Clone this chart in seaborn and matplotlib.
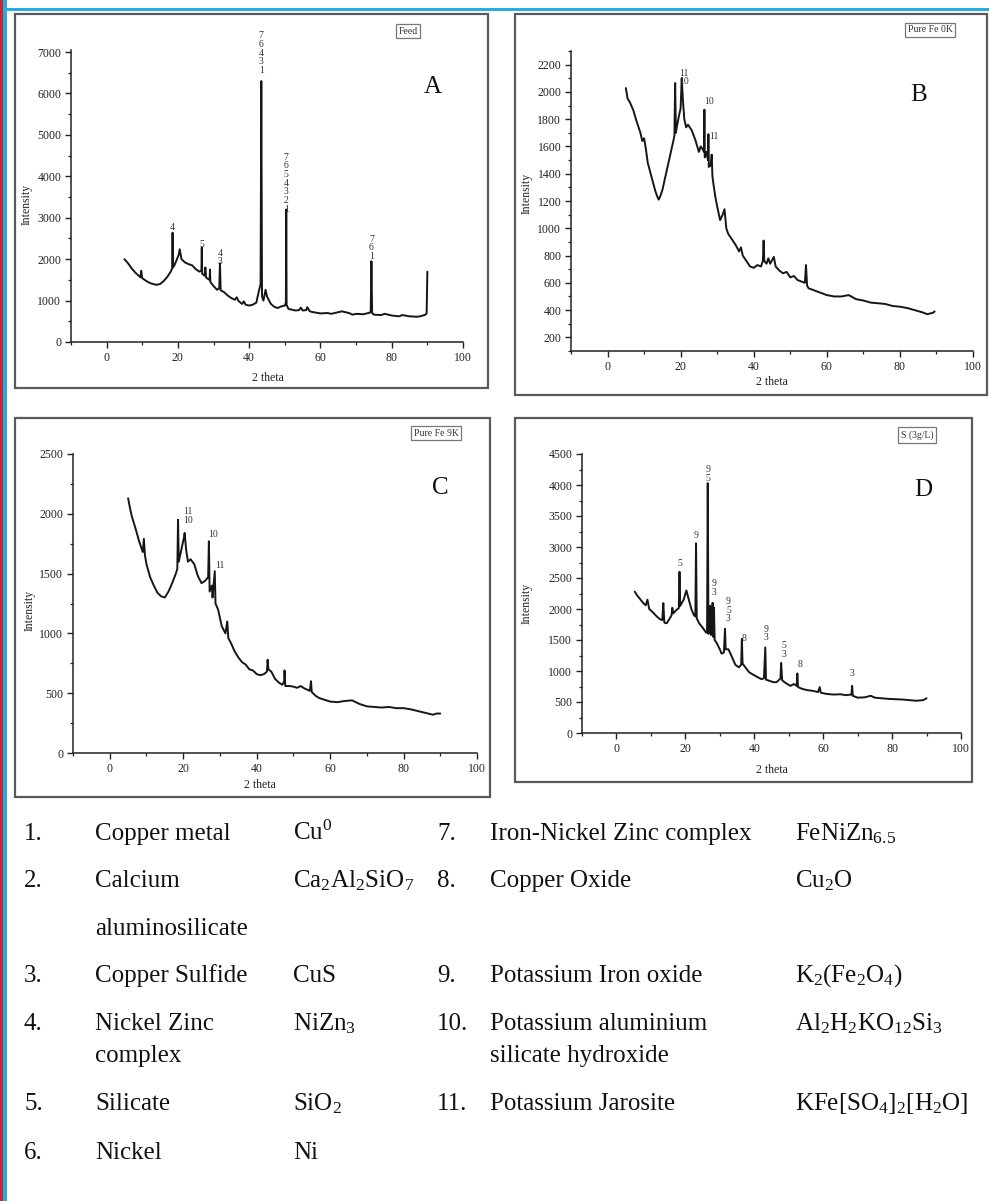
import matplotlib
matplotlib.use("Agg")
import matplotlib.pyplot as plt
import seaborn as sns
from matplotlib.patches import Rectangle
from matplotlib.ticker import MultipleLocator

# ---- data ----
feed_theta = [5.0, 6.0, 7.0, 8.0, 9.0, 9.5, 9.7, 10.0, 11.0, 12.0,
              13.0, 14.0, 15.0, 16.0, 17.0, 18.0, 18.4, 18.5, 18.6, 19.0,
              19.5, 20.2, 20.5, 21.0, 22.0, 23.0, 24.0, 25.0, 26.0, 26.6,
              26.7, 26.8, 27.5, 27.7, 27.9, 28.5, 28.9, 29.0, 29.1, 30.0,
              31.0, 31.6, 31.8, 32.0, 33.0, 34.0, 35.0, 36.0, 36.5, 37.0,
              38.0, 38.5, 39.0, 40.0, 41.0, 42.0, 42.8, 43.2, 43.4, 43.6,
              44.0, 44.6, 45.0, 46.0, 47.0, 48.0, 49.0, 50.0, 50.3, 50.4,
              50.5, 51.0, 52.0, 53.0, 54.0, 54.5, 55.0, 56.0, 56.3, 57.0,
              58.0, 60.0, 62.0, 63.0, 65.0, 66.0, 68.0, 69.0, 70.0, 72.0,
              73.5, 74.1, 74.3, 74.5, 75.0, 77.0, 78.0, 80.0, 82.0, 83.0,
              85.0, 87.0, 88.0, 89.5, 89.8, 90.0]
feed_counts = [2000, 1900, 1780, 1680, 1600, 1560, 1720, 1540, 1480, 1430,
               1400, 1380, 1400, 1470, 1570, 1700, 1780, 2640, 1800, 1850,
               1950, 2100, 2240, 2000, 1920, 1880, 1850, 1760, 1700, 1720,
               2280, 1650, 1600, 1800, 1560, 1520, 1500, 1750, 1450, 1350,
               1260, 1300, 1900, 1250, 1200, 1120, 1060, 1020, 1080, 990,
               920, 980, 900, 880, 900, 950, 1260, 1400, 6300, 1100,
               1000, 1260, 1100, 930, 850, 820, 860, 880, 950, 3200,
               900, 800, 780, 760, 770, 830, 760, 770, 840, 740,
               720, 690, 700, 680, 720, 740, 700, 660, 680, 670,
               700, 720, 1950, 700, 660, 650, 680, 640, 620, 650,
               620, 610, 620, 660, 700, 1700]

fe0k_theta = [5.0, 5.5, 6.0, 7.0, 8.0, 9.0, 9.5, 10.0, 10.5, 11.0,
              12.0, 13.0, 13.5, 14.0, 14.5, 15.0, 16.0, 17.0, 18.0, 18.3,
              18.5, 18.7, 19.0, 19.5, 20.0, 20.3, 20.6, 21.0, 21.5, 22.0,
              23.0, 24.0, 25.0, 25.5, 26.0, 26.4, 26.5, 26.6, 27.0, 27.5,
              27.6, 27.7, 28.2, 28.5, 28.7, 29.0, 29.5, 30.0, 30.8, 31.5,
              32.0, 32.5, 33.0, 34.0, 35.0, 36.0, 36.5, 37.0, 38.0, 39.0,
              40.0, 41.0, 42.0, 42.5, 42.7, 42.9, 43.5, 44.0, 44.5, 45.5,
              46.0, 47.0, 48.0, 49.0, 50.0, 51.0, 52.0, 53.0, 54.0, 54.3,
              54.6, 55.0, 56.0, 57.0, 58.0, 60.0, 62.0, 64.0, 66.0, 68.0,
              70.0, 72.0, 74.0, 76.0, 78.0, 80.0, 82.0, 84.0, 86.0, 87.5,
              89.0, 89.5]
fe0k_counts = [2028, 1950, 1930, 1870, 1780, 1700, 1640, 1660, 1580, 1480,
               1380, 1280, 1240, 1210, 1240, 1280, 1400, 1520, 1640, 1680,
               2065, 1700, 1750, 1820, 1880, 2100, 1950, 1800, 1740, 1760,
               1720, 1650, 1560, 1600, 1580, 1560, 1870, 1520, 1560, 1500,
               1690, 1450, 1460, 1540, 1380, 1320, 1230, 1160, 1060, 1100,
               1140, 1000, 960, 920, 880, 830, 860, 800, 760, 720,
               710, 730, 720, 760, 910, 760, 740, 780, 740, 790,
               720, 690, 670, 680, 640, 650, 620, 610, 600, 730,
               580, 560, 550, 540, 530, 510, 500, 500, 510, 480,
               470, 455, 450, 445, 430, 425, 415, 400, 385, 370,
               380, 390]

fe9k_theta = [5.0, 5.5, 6.0, 7.0, 8.0, 9.0, 9.3, 9.6, 10.0, 11.0,
              12.0, 13.0, 14.0, 15.0, 16.0, 17.0, 18.0, 18.4, 18.6, 18.8,
              19.5, 20.2, 20.4, 20.8, 21.3, 22.0, 23.0, 24.0, 25.0, 26.0,
              26.8, 27.0, 27.2, 27.8, 28.0, 28.6, 28.8, 29.5, 30.5, 31.5,
              32.0, 32.3, 33.0, 34.0, 35.0, 36.0, 37.0, 38.0, 39.0, 40.0,
              41.0, 42.0, 42.8, 43.0, 43.2, 44.0, 45.0, 46.0, 47.0, 47.5,
              47.6, 47.8, 49.0, 50.0, 51.0, 52.0, 53.0, 54.5, 54.8, 55.0,
              56.0, 57.0, 58.0, 60.0, 62.0, 64.0, 66.0, 68.0, 70.0, 72.0,
              74.0, 76.0, 78.0, 80.0, 82.0, 84.0, 86.0, 88.0, 89.0, 90.0]
fe9k_counts = [2130, 2050, 1980, 1880, 1770, 1680, 1790, 1650, 1580, 1470,
               1400, 1340, 1310, 1300, 1350, 1420, 1500, 1540, 1950, 1600,
               1700, 1800, 1840, 1700, 1600, 1620, 1580, 1480, 1420, 1440,
               1470, 1770, 1350, 1400, 1300, 1520, 1250, 1200, 1060, 1000,
               1100, 960, 920, 850, 800, 760, 740, 700, 690, 660,
               650, 660, 680, 780, 700, 680, 620, 590, 570, 600,
               690, 560, 560, 555, 545, 560, 540, 520, 600, 510,
               480, 460, 450, 430, 425, 435, 440, 410, 390, 385,
               380, 385, 375, 375, 365, 350, 335, 320, 330, 330]

s3_theta = [5.3, 6.0, 7.0, 7.8, 8.5, 9.0, 9.5, 10.5, 11.7, 12.5,
            13.3, 13.6, 13.9, 14.6, 15.5, 16.0, 16.2, 16.5, 17.5, 18.1,
            18.3, 18.5, 19.5, 20.3, 21.0, 21.8, 22.5, 22.9, 23.1, 23.3,
            24.0, 25.0, 26.0, 26.3, 26.5, 26.7, 27.1, 27.2, 27.4, 27.8,
            27.9, 28.1, 28.3, 28.5, 29.1, 30.0, 30.5, 31.2, 31.5, 31.7,
            32.5, 33.5, 34.5, 35.5, 36.2, 36.4, 36.6, 37.4, 38.5, 40.0,
            41.0, 42.0, 42.8, 43.2, 43.4, 44.5, 45.5, 46.5, 47.6, 47.8,
            48.1, 49.0, 50.5, 51.5, 52.3, 52.5, 52.7, 54.0, 55.5, 57.0,
            58.5, 59.0, 59.3, 61.0, 63.0, 65.0, 66.5, 68.2, 68.4, 68.6,
            70.0, 72.0, 73.8, 75.0, 77.0, 79.0, 81.0, 83.0, 85.0, 87.0,
            89.0, 90.0]
s3_counts = [2280, 2220, 2150, 2094, 2060, 2150, 2000, 1950, 1880, 1840,
             1820, 2094, 1780, 1770, 1850, 1900, 2020, 1930, 1990, 2014,
             2600, 2050, 2150, 2300, 2150, 1990, 1900, 1880, 3060, 1850,
             1770, 1700, 1620, 1620, 4030, 1600, 1700, 2050, 1580, 1600,
             2100, 1550, 2020, 1500, 1450, 1350, 1280, 1300, 1680, 1350,
             1350, 1230, 1100, 1060, 1100, 1520, 1120, 1060, 980, 930,
             900, 870, 880, 1380, 860, 840, 820, 820, 880, 1130,
             850, 810, 760, 790, 760, 960, 740, 710, 690, 680,
             660, 740, 650, 630, 620, 625, 610, 620, 760, 600,
             570, 575, 600, 570, 560, 550, 545, 540, 530, 520,
             530, 560]

# phase numbers marked above the peaks
feed_peak_theta = [18.5, 26.7, 31.8, 43.4, 50.4, 74.3]
feed_peak_ids = ["4", "5", "4\n3", "7\n6\n4\n3\n1", "7\n6\n5\n4\n3\n2\n1", "7\n6\n1"]
feed_peak_label_y = [2650, 2250, 1830, 6450, 3100, 1960]

fe0k_peak_theta = [20.9, 27.8, 29.0]
fe0k_peak_ids = ["11\n10", "10", "11"]
fe0k_peak_label_y = [2040, 1900, 1640]

fe9k_peak_theta = [21.4, 28.0, 29.9]
fe9k_peak_ids = ["11\n10", "10", "11"]
fe9k_peak_label_y = [1910, 1790, 1530]

s3_peak_theta = [18.4, 23.1, 26.5, 28.2, 32.5, 36.9, 43.4, 48.5, 53.4, 68.4]
s3_peak_ids = ["5", "9", "9\n5", "9\n3", "9\n5\n3", "8", "9\n3", "5\n3", "8", "3"]
s3_peak_label_y = [2660, 3120, 4040, 2200, 1770, 1450, 1460, 1200, 1030, 880]

# phase key below the patterns
phase_numbers = ["1.", "2.", "3.", "4.", "5.", "6.", "7.", "8.", "9.", "10.", "11."]
phase_names = ["Copper metal", "Calcium\naluminosilicate", "Copper Sulfide",
               "Nickel Zinc\ncomplex", "Silicate", "Nickel",
               "Iron-Nickel Zinc complex", "Copper Oxide", "Potassium Iron oxide",
               "Potassium aluminium\nsilicate hydroxide", "Potassium Jarosite"]
phase_formulas = ["Cu$^0$", "Ca$_2$Al$_2$SiO$_7$", "CuS", "NiZn$_3$", "SiO$_2$", "Ni",
                  "FeNiZn$_{6.5}$", "Cu$_2$O", "K$_2$(Fe$_2$O$_4$)",
                  "Al$_2$H$_2$KO$_{12}$Si$_3$", "KFe[SO$_4$]$_2$[H$_2$O]"]

# ---- styling ----
sns.set_style("ticks")
plt.rcParams["font.family"] = ["Liberation Serif", "DejaVu Serif"]
plt.rcParams["mathtext.default"] = "regular"

W, H = 989, 1201
fig = plt.figure(figsize=(W / 100, H / 100), dpi=100)
fig.patch.set_facecolor("white")


def fx(x):
    return x / W


def fy(y):
    return 1 - y / H


def frame(l, t, r, b, **kw):
    fig.patches.append(Rectangle((fx(l), fy(b)), fx(r - l), (b - t) / H,
                                 transform=fig.transFigure, fill=False, **kw))


# page edges of the scan
fig.patches.append(Rectangle((0, 0), fx(3), 1, transform=fig.transFigure,
                             color="#d62027", lw=0))
fig.patches.append(Rectangle((fx(3), 0), fx(4), 1, transform=fig.transFigure,
                             color="#2aaae2", lw=0))
fig.patches.append(Rectangle((fx(3), fy(11)), 1, 3 / H, transform=fig.transFigure,
                             color="#2aaae2", lw=0))

panels = [
    dict(theta=feed_theta, counts=feed_counts, box=(71, 50, 463, 342), frame=(15, 14, 488, 388),
         ylim=(0, 7050), major=1000, minor=500, tag="Feed", tag_xy=(408, 31),
         letter="A", letter_xy=(433, 87), ylab=(27, 204), xlab=(268, 378),
         pk=(feed_peak_theta, feed_peak_ids, feed_peak_label_y)),
    dict(theta=fe0k_theta, counts=fe0k_counts, box=(571, 51, 973, 351), frame=(515, 14, 987, 395),
         ylim=(100, 2300), major=200, minor=100, tag="Pure Fe 0K", tag_xy=(930, 30),
         letter="B", letter_xy=(919, 95), ylab=(527, 193), xlab=(772, 382),
         pk=(fe0k_peak_theta, fe0k_peak_ids, fe0k_peak_label_y)),
    dict(theta=fe9k_theta, counts=fe9k_counts, box=(73, 454, 477, 753), frame=(15, 418, 490, 797),
         ylim=(0, 2500), major=500, minor=250, tag="Pure Fe 9K", tag_xy=(436, 433),
         letter="C", letter_xy=(440, 488), ylab=(30, 610), xlab=(260, 785),
         pk=(fe9k_peak_theta, fe9k_peak_ids, fe9k_peak_label_y)),
    dict(theta=s3_theta, counts=s3_counts, box=(582, 454, 961, 733), frame=(515, 418, 972, 782),
         ylim=(0, 4500), major=500, minor=250, tag="S (3g/L)", tag_xy=(917, 435),
         letter="D", letter_xy=(923, 490), ylab=(527, 603), xlab=(772, 770),
         pk=(s3_peak_theta, s3_peak_ids, s3_peak_label_y)),
]

for p in panels:
    frame(*p["frame"], edgecolor="#5a5a5a", lw=1.6)
    l, t, r, b = p["box"]
    ax = fig.add_axes([fx(l), fy(b), fx(r - l), (b - t) / H])
    ax.set_facecolor("none")
    sns.lineplot(x=p["theta"], y=p["counts"], ax=ax, color="#161616", lw=1.4,
                 estimator=None, sort=False)
    ax.set_xlim(-10, 100)
    ax.set_ylim(*p["ylim"])
    ax.xaxis.set_major_locator(MultipleLocator(20))
    ax.xaxis.set_minor_locator(MultipleLocator(10))
    ax.yaxis.set_major_locator(MultipleLocator(p["major"]))
    ax.yaxis.set_minor_locator(MultipleLocator(p["minor"]))
    ax.tick_params(which="major", direction="out", length=4, width=1, labelsize=8.5,
                   colors="#222", pad=3)
    ax.tick_params(which="minor", direction="out", length=2.5, width=0.9, colors="#222")
    sns.despine(ax=ax)
    for s in ("left", "bottom"):
        ax.spines[s].set_linewidth(1.1)
        ax.spines[s].set_color("#222")

    ax.set_xlabel("2 theta", fontsize=8.5, color="#222")
    ax.xaxis.set_label_coords(fx(p["xlab"][0]), fy(p["xlab"][1]), transform=fig.transFigure)
    ax.xaxis.label.set_va("center")
    ax.set_ylabel("Intensity", fontsize=8.5, color="#222")
    ax.yaxis.set_label_coords(fx(p["ylab"][0]), fy(p["ylab"][1]), transform=fig.transFigure)
    ax.yaxis.label.set_va("center")

    for xp, s, yp in zip(*p["pk"]):
        ax.text(xp, yp, s, ha="center", va="bottom", fontsize=7, linespacing=0.95,
                color="#333", clip_on=False)

    fig.text(fx(p["letter_xy"][0]), fy(p["letter_xy"][1]), p["letter"], fontsize=18,
             ha="center", va="center", color="#111")
    fig.text(fx(p["tag_xy"][0]), fy(p["tag_xy"][1]), p["tag"], fontsize=7,
             ha="center", va="center", color="#333",
             bbox=dict(boxstyle="square,pad=0.3", fc="white", ec="#777", lw=0.9))

# ---- phase key ----
row_y = [833, 880, 975, 1023, 1103, 1152, 833, 880, 975, 1023, 1103]
col_num = [24] * 6 + [437] * 5
col_name = [95] * 6 + [490] * 5
col_formula = [293] * 6 + [795] * 5
for num, name, formula, y, xn, xm, xf in zip(phase_numbers, phase_names, phase_formulas,
                                             row_y, col_num, col_name, col_formula):
    base = y + 7
    fig.text(fx(xn), fy(base), num, fontsize=18, va="baseline", ha="left", color="#111")
    lines = name.split("\n")
    # wrapped names: second line sits lower (further for item 2, which has its own row)
    gap = 48 if num == "2." else 32
    for k, line in enumerate(lines):
        fig.text(fx(xm), fy(base + k * gap), line, fontsize=18, va="baseline",
                 ha="left", color="#111")
    fig.text(fx(xf), fy(base), formula, fontsize=18, va="baseline", ha="left", color="#111")

fig.savefig("out.png", dpi=100)
